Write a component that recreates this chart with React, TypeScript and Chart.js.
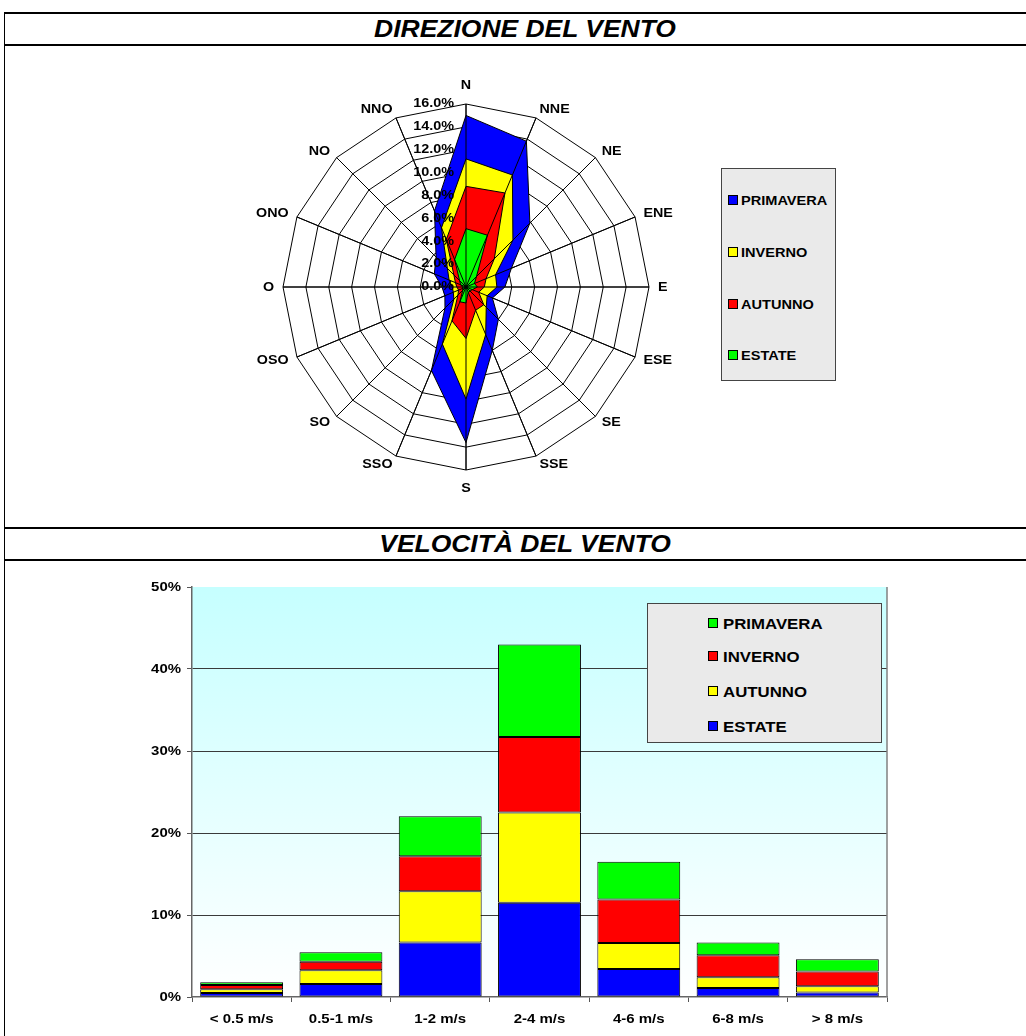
import React, { useEffect, useRef } from 'react';
import { Chart, registerables } from 'chart.js';

Chart.register(...registerables);

// ---------- DATA ----------
const DIRECTIONS = ['N', 'NNE', 'NE', 'ENE', 'E', 'ESE', 'SE', 'SSE', 'S', 'SSO', 'SO', 'OSO', 'O', 'ONO', 'NO', 'NNO'];
const DIR_PRIMAVERA = [15.0, 13.8, 7.9, 4.3, 3.4, 2.5, 4.0, 6.0, 13.6, 7.9, 2.6, 2.0, 2.1, 3.0, 3.7, 7.2];
const DIR_INVERNO = [11.2, 10.6, 5.8, 2.8, 2.7, 2.0, 2.5, 4.5, 9.8, 5.4, 1.5, 1.2, 1.2, 1.6, 2.3, 5.6];
const DIR_AUTUNNO = [8.8, 8.9, 3.5, 1.9, 1.6, 1.2, 2.2, 2.2, 4.5, 3.2, 1.0, 0.7, 0.8, 1.0, 1.5, 4.5];
const DIR_ESTATE = [5.1, 4.9, 1.3, 0.8, 1.0, 0.6, 0.5, 0.5, 1.4, 1.4, 0.4, 0.3, 0.3, 0.5, 0.8, 2.6];
const DIR_TICKS = [0, 2, 4, 6, 8, 10, 12, 14, 16];

const SPEED_CATEGORIES = ['< 0.5 m/s', '0.5-1 m/s', '1-2 m/s', '2-4 m/s', '4-6 m/s', '6-8 m/s', '> 8 m/s'];
const SPD_ESTATE = [0.5, 1.6, 6.65, 11.5, 3.4, 1.1, 0.55];
const SPD_AUTUNNO = [0.45, 1.65, 6.25, 11.0, 3.2, 1.3, 0.75];
const SPD_INVERNO = [0.5, 1.05, 4.25, 9.2, 5.3, 2.7, 1.8];
const SPD_PRIMAVERA = [0.35, 1.15, 4.9, 11.3, 4.6, 1.55, 1.5];
const SPEED_TICKS = [0, 10, 20, 30, 40, 50];

const TITLE_DIR = 'DIREZIONE DEL VENTO';
const TITLE_SPEED = 'VELOCITÀ DEL VENTO';

const BLUE = '#0000FF';
const YELLOW = '#FFFF00';
const RED = '#FF0000';
const GREEN = '#00FF00';

const FONT = '"Liberation Sans", Arial, sans-serif';

const DIR_LEGEND = [
  { label: 'PRIMAVERA', color: BLUE },
  { label: 'INVERNO', color: YELLOW },
  { label: 'AUTUNNO', color: RED },
  { label: 'ESTATE', color: GREEN },
];
const SPEED_LEGEND = [
  { label: 'PRIMAVERA', color: GREEN },
  { label: 'INVERNO', color: RED },
  { label: 'AUTUNNO', color: YELLOW },
  { label: 'ESTATE', color: BLUE },
];

// ---------- helpers ----------
function drawStretched(
  ctx: CanvasRenderingContext2D,
  text: string,
  x: number,
  y: number,
  align: 'left' | 'right' | 'center',
  font: string,
  sx: number
) {
  ctx.save();
  ctx.font = font;
  ctx.textBaseline = 'middle';
  ctx.textAlign = 'left';
  const w = ctx.measureText(text).width * sx;
  const left = align === 'right' ? x - w : align === 'center' ? x - w / 2 : x;
  ctx.translate(left, y);
  ctx.scale(sx, 1);
  ctx.fillStyle = '#000';
  ctx.fillText(text, 0, 0);
  ctx.restore();
}

const radarOverlay = {
  id: 'radarOverlay',
  afterDatasetsDraw(chart: any) {
    const scale = chart.scales.r;
    const ctx: CanvasRenderingContext2D = chart.ctx;
    const n = DIRECTIONS.length;
    ctx.save();
    ctx.strokeStyle = '#000';
    ctx.lineWidth = 1;
    for (let i = 0; i < n; i++) {
      const p = scale.getPointPosition(i, scale.drawingArea);
      ctx.beginPath();
      ctx.moveTo(scale.xCenter, scale.yCenter);
      ctx.lineTo(p.x, p.y);
      ctx.stroke();
    }
    ctx.restore();
    for (const v of DIR_TICKS) {
      const d = scale.getDistanceFromCenterForValue(v);
      drawStretched(ctx, v.toFixed(1) + '%', scale.xCenter - 12, scale.yCenter - d, 'right', `bold 12px ${FONT}`, 1.2);
    }
    for (let i = 0; i < n; i++) {
      const angle = (i / n) * Math.PI * 2;
      const s = Math.sin(angle);
      const c = Math.cos(angle);
      const axial = Math.abs(s) < 0.01;
      const p = scale.getPointPosition(i, scale.drawingArea + (axial ? 12 : 9));
      let y = p.y;
      let align: 'left' | 'right' | 'center' = 'center';
      if (axial) {
        y = c > 0 ? p.y - 6.5 : p.y + 6.5;
      } else {
        align = s > 0 ? 'left' : 'right';
      }
      drawStretched(ctx, DIRECTIONS[i], p.x, y, align, `bold 13px ${FONT}`, 1.1);
    }
  },
};

const barBackground = {
  id: 'barBackground',
  beforeDraw(chart: any) {
    const { ctx, chartArea: a } = chart;
    const g = ctx.createLinearGradient(0, a.top, 0, a.bottom);
    g.addColorStop(0, '#C6FFFF');
    g.addColorStop(1, '#FFFFFF');
    ctx.save();
    ctx.fillStyle = g;
    ctx.fillRect(a.left, a.top, a.right - a.left, a.bottom - a.top);
    ctx.restore();
  },
  afterDraw(chart: any) {
    const { ctx, chartArea: a } = chart;
    ctx.save();
    ctx.strokeStyle = '#808080';
    ctx.lineWidth = 1.5;
    ctx.beginPath();
    ctx.moveTo(a.right, a.top);
    ctx.lineTo(a.right, a.bottom);
    ctx.stroke();
    ctx.restore();
    const ys = chart.scales.y;
    const xs = chart.scales.x;
    for (const v of SPEED_TICKS) {
      drawStretched(ctx, v + '%', a.left - 11, ys.getPixelForValue(v), 'right', `bold 13px ${FONT}`, 1.15);
    }
    SPEED_CATEGORIES.forEach((c, i) => {
      drawStretched(ctx, c, xs.getPixelForValue(i), a.bottom + 23, 'center', `bold 12.5px ${FONT}`, 1.2);
    });
  },
};

// ---------- components ----------
function RadarChart() {
  const ref = useRef<HTMLCanvasElement>(null);
  useEffect(() => {
    const mk = (label: string, data: number[], color: string) => ({
      label,
      data,
      backgroundColor: color,
      borderColor: '#000',
      borderWidth: 1,
      fill: true,
      pointRadius: 0,
      pointHoverRadius: 0,
      tension: 0,
    });
    const chart = new Chart(ref.current!, {
      type: 'radar',
      data: {
        labels: DIRECTIONS,
        datasets: [
          mk('ESTATE', DIR_ESTATE, GREEN),
          mk('AUTUNNO', DIR_AUTUNNO, RED),
          mk('INVERNO', DIR_INVERNO, YELLOW),
          mk('PRIMAVERA', DIR_PRIMAVERA, BLUE),
        ],
      },
      options: {
        responsive: false,
        animation: false,
        layout: { padding: 57 },
        plugins: { legend: { display: false }, tooltip: { enabled: false } },
        scales: {
          r: {
            min: 0,
            max: 16,
            ticks: { display: false, stepSize: 2 },
            pointLabels: { display: false },
            grid: { color: '#000', lineWidth: 1 },
            angleLines: { display: true, color: '#000', lineWidth: 1 },
          },
        },
      },
      plugins: [radarOverlay],
    } as any);
    return () => chart.destroy();
  }, []);
  return (
    <canvas
      ref={ref}
      width={480}
      height={480}
      style={{ position: 'absolute', left: 226, top: 47, width: 480, height: 480 }}
    />
  );
}

function BarChart() {
  const ref = useRef<HTMLCanvasElement>(null);
  useEffect(() => {
    const mk = (label: string, data: number[], color: string) => ({
      label,
      data,
      backgroundColor: color,
      borderColor: '#000',
      borderWidth: 1,
      borderSkipped: false,
      barPercentage: 0.835,
      categoryPercentage: 1,
    });
    const chart = new Chart(ref.current!, {
      type: 'bar',
      data: {
        labels: SPEED_CATEGORIES,
        datasets: [
          mk('ESTATE', SPD_ESTATE, BLUE),
          mk('AUTUNNO', SPD_AUTUNNO, YELLOW),
          mk('INVERNO', SPD_INVERNO, RED),
          mk('PRIMAVERA', SPD_PRIMAVERA, GREEN),
        ],
      },
      options: {
        responsive: false,
        animation: false,
        layout: { padding: { left: 187, right: 139, top: 26, bottom: 34 } },
        plugins: { legend: { display: false }, tooltip: { enabled: false } },
        scales: {
          x: {
            stacked: true,
            ticks: { display: false },
            grid: { offset: true, drawOnChartArea: false, drawTicks: true, tickLength: 5, tickColor: '#555', lineWidth: 1 },
            border: { display: true, color: '#666', width: 1.5 },
          },
          y: {
            stacked: true,
            min: 0,
            max: 50,
            ticks: { display: false, stepSize: 10 },
            grid: {
              color: (c: any) => (c.tick && (c.tick.value === 0 || c.tick.value === 50) ? 'rgba(0,0,0,0)' : '#3a3a3a'),
              tickColor: '#555',
              drawTicks: true,
              tickLength: 5,
              lineWidth: 1,
            },
            border: { display: true, color: '#666', width: 1.5 },
          },
        },
      },
      plugins: [barBackground],
    } as any);
    return () => chart.destroy();
  }, []);
  return (
    <canvas
      ref={ref}
      width={1026}
      height={475}
      style={{ position: 'absolute', left: 0, top: 561, width: 1026, height: 475 }}
    />
  );
}

function Legend(props: {
  items: { label: string; color: string }[];
  left: number;
  top: number;
  width: number;
  height: number;
  rows: number[];
  squareX: number;
  textX: number;
  fontSize: number;
}) {
  const { items, left, top, width, height, rows, squareX, textX, fontSize } = props;
  return (
    <div
      style={{
        position: 'absolute',
        left,
        top,
        width,
        height,
        background: '#EAEAEA',
        border: '1px solid #444',
        boxSizing: 'border-box',
      }}
    >
      {items.map((it, i) => (
        <React.Fragment key={it.label}>
          <div
            style={{
              position: 'absolute',
              left: squareX,
              top: rows[i] - 5,
              width: 10,
              height: 10,
              background: it.color,
              border: '1px solid #000',
              boxSizing: 'border-box',
            }}
          />
          <div
            style={{
              position: 'absolute',
              left: textX,
              top: rows[i],
              transform: 'translateY(-50%) scaleX(1.12)',
              transformOrigin: 'left center',
              font: `bold ${fontSize}px ${FONT}`,
              whiteSpace: 'nowrap',
              lineHeight: 1,
              color: '#000',
            }}
          >
            {it.label}
          </div>
        </React.Fragment>
      ))}
    </div>
  );
}

function HLine({ y }: { y: number }) {
  return <div style={{ position: 'absolute', left: 4, top: y, width: 1022, height: 2, background: '#000' }} />;
}

function Title({ text, y }: { text: string; y: number }) {
  return (
    <div
      style={{
        position: 'absolute',
        left: 525,
        top: y,
        transform: 'translate(-50%, -50%) scaleX(1.15)',
        font: `italic bold 23px ${FONT}`,
        whiteSpace: 'nowrap',
        lineHeight: 1,
        color: '#000',
      }}
    >
      {text}
    </div>
  );
}

export default function App() {
  return (
    <div
      style={{
        position: 'absolute',
        left: 0,
        top: 0,
        width: 1026,
        height: 1036,
        overflow: 'hidden',
        background: '#fff',
        fontFamily: FONT,
      }}
    >
      <div style={{ position: 'absolute', left: 4, top: 12, width: 1, height: 1024, background: '#000' }} />
      <HLine y={12} />
      <HLine y={44} />
      <HLine y={527} />
      <HLine y={559} />
      <Title text={TITLE_DIR} y={29} />
      <Title text={TITLE_SPEED} y={544} />
      <RadarChart />
      <Legend
        items={DIR_LEGEND}
        left={721}
        top={168}
        width={115}
        height={213}
        rows={[31, 83, 135, 186]}
        squareX={6}
        textX={19}
        fontSize={13}
      />
      <BarChart />
      <Legend
        items={SPEED_LEGEND}
        left={647}
        top={603}
        width={235}
        height={140}
        rows={[19, 52, 87, 122]}
        squareX={60}
        textX={75}
        fontSize={15}
      />
    </div>
  );
}
